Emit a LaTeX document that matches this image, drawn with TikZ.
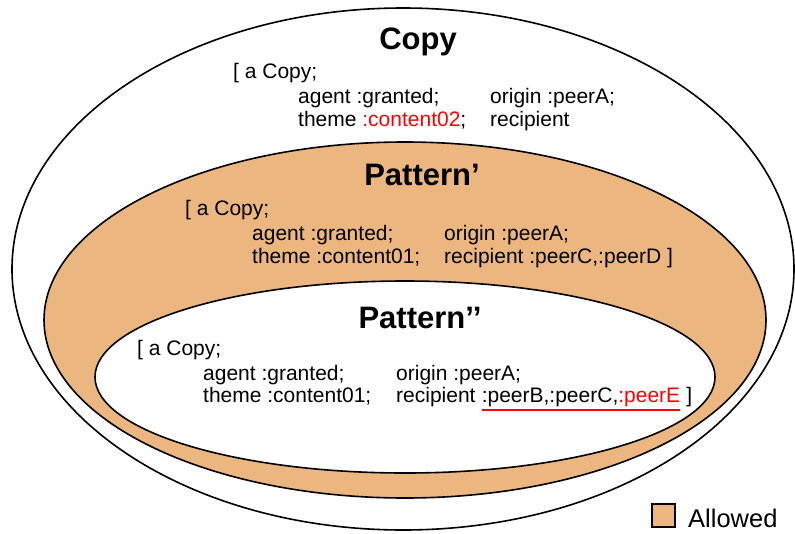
\documentclass[tikz,border=0pt]{standalone}
\usepackage{fontspec}
\setmainfont{Liberation Sans}
\definecolor{allowed}{RGB}{235,182,128}
\tikzset{
  body/.style={anchor=base west, inner sep=0pt, font=\fontsize{21}{24}\selectfont},
  title/.style={anchor=base, inner sep=0pt, font=\fontsize{31}{36}\selectfont\bfseries},
  ring/.style={line width=1.6pt},
}
\begin{document}
\begin{tikzpicture}[x=1pt,y=-1pt]
\useasboundingbox (0,0) rectangle (795,533);

% the three sets
\draw[ring] (403,269) ellipse [x radius=391pt, y radius=261pt];
\draw[ring, fill=allowed] (405,320) ellipse [x radius=361pt, y radius=178pt];
\draw[ring, fill=white] (405,377) ellipse [x radius=310pt, y radius=96pt];

% Copy
\node[title] (copy) at (418,49) {Copy};
\node[body] (c0) at (233,78) {[ a Copy;};
\node[body] (c1) at (298,103) {agent :granted;};
\node[body] (c2) at (490,103) {origin :peerA;};
\node[body] (c3) at (298,126) {theme \textcolor{red}{:content02};};
\node[body] (c4) at (490,126) {recipient};

% Pattern'
\node[title] (pat1) at (422,185) {Pattern’};
\node[body] (p10) at (185,215) {[ a Copy;};
\node[body] (p11) at (252,240) {agent :granted;};
\node[body] (p12) at (444,240) {origin :peerA;};
\node[body] (p13) at (252,263) {theme :content01;};
\node[body] (p14) at (444,263) {recipient :peerC,:peerD ]};

% Pattern''
\node[title] (pat2) at (420,328) {Pattern’’};
\node[body] (p20) at (137,355) {[ a Copy;};
\node[body] (p21) at (203,380) {agent :granted;};
\node[body] (p22) at (396,380) {origin :peerA;};
\node[body] (p23) at (203,402) {theme :content01;};
\node[body] (p24) at (396,402) {recipient};
\node[body] (p2list) at ([xshift=5.8pt]p24.base east) {:peerB,:peerC,\textcolor{red}{:peerE}};
\node[body] (p2end) at ([xshift=5.8pt]p2list.base east) {]};
\draw[red, line width=2pt] ([yshift=-8pt]p2list.base west) -- ([yshift=-8pt]p2list.base east);

% legend
\node[draw, fill=allowed, line width=1.2pt, minimum size=23pt, inner sep=0pt] (key) at (663.5,515.5) {};
\node[body, font=\fontsize{25.5}{30}\selectfont] (keylabel) at (688,527) {Allowed};
\end{tikzpicture}
\end{document}
